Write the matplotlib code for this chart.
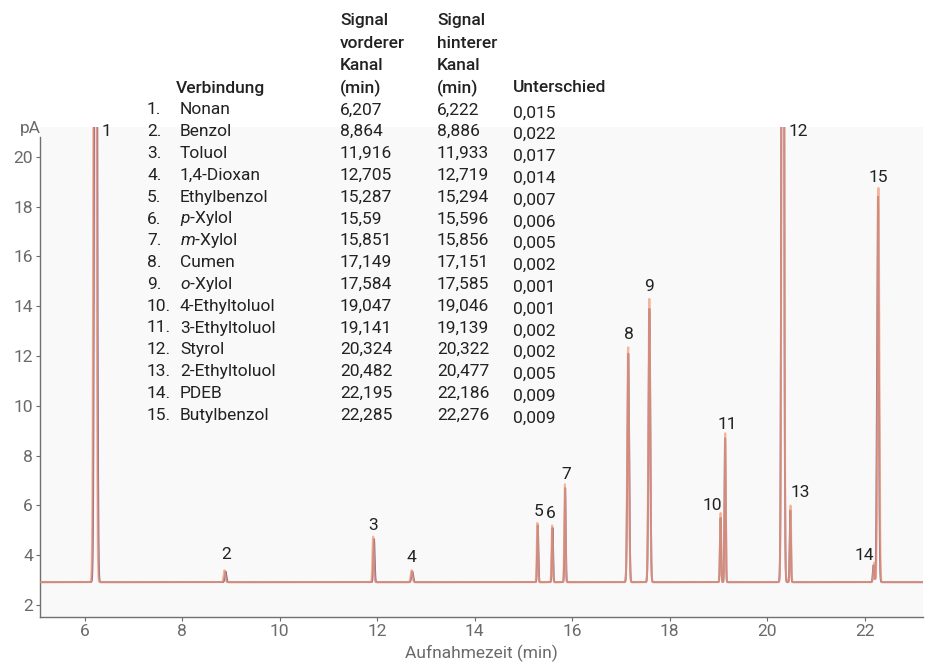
import numpy as np
import matplotlib
matplotlib.use('Agg')
import matplotlib.pyplot as plt

plt.rcParams['font.family'] = ['Roboto', 'DejaVu Sans']
plt.rcParams['mathtext.fontset'] = 'custom'
plt.rcParams['mathtext.it'] = 'Roboto:italic'
plt.rcParams['mathtext.rm'] = 'Roboto'

# peak table (retention times from the table, heights)
peak_no    = ['1', '2', '3', '4', '5', '6', '7', '8', '9', '10', '11', '12', '13', '14', '15']
rt_front   = [6.207, 8.864, 11.916, 12.705, 15.287, 15.59, 15.851, 17.149, 17.584,
              19.047, 19.141, 20.324, 20.482, 22.195, 22.285]
rt_back    = [6.222, 8.886, 11.933, 12.719, 15.294, 15.596, 15.856, 17.151, 17.585,
              19.046, 19.139, 20.322, 20.477, 22.186, 22.276]
h_front    = [60.0, 3.4, 4.75, 3.4, 5.3, 5.2, 6.85, 12.35, 14.3,
              5.7, 8.9, 60.0, 6.0, 3.7, 18.75]
h_back     = [60.0, 3.35, 4.65, 3.35, 5.2, 5.1, 6.7, 12.1, 13.9,
              5.5, 8.7, 60.0, 5.8, 3.6, 18.4]
width      = [0.022, 0.016, 0.014, 0.018, 0.012, 0.012, 0.012, 0.018, 0.018,
              0.012, 0.012, 0.02, 0.012, 0.014, 0.018]
baseline   = 2.92

# where the peak numbers sit (centre of the text, data units)
label_x    = [6.45, 8.89, 11.92, 12.70, 15.32, 15.57, 15.88, 17.17, 17.58,
              18.87, 19.18, 20.65, 20.69, 22.0, 22.29]
label_y    = [21.03, 4.02, 5.19, 3.90, 5.75, 5.67, 7.24, 12.85, 14.78,
              5.99, 9.26, 21.03, 6.52, 3.98, 19.18]

# table text
tab_no     = ['1.', '2.', '3.', '4.', '5.', '6.', '7.', '8.', '9.', '10.',
              '11.', '12.', '13.', '14.', '15.']
tab_name   = ['Nonan', 'Benzol', 'Toluol', '1,4-Dioxan', 'Ethylbenzol',
              r'$\it{p}$-Xylol', r'$\it{m}$-Xylol', 'Cumen', r'$\it{o}$-Xylol',
              '4-Ethyltoluol', '3-Ethyltoluol', 'Styrol', '2-Ethyltoluol',
              'PDEB', 'Butylbenzol']
tab_front  = ['6,207', '8,864', '11,916', '12,705', '15,287', '15,59', '15,851',
              '17,149', '17,584', '19,047', '19,141', '20,324', '20,482',
              '22,195', '22,285']
tab_back   = ['6,222', '8,886', '11,933', '12,719', '15,294', '15,596', '15,856',
              '17,151', '17,585', '19,046', '19,139', '20,322', '20,477',
              '22,186', '22,276']
tab_diff   = ['0,015', '0,022', '0,017', '0,014', '0,007', '0,006', '0,005',
              '0,002', '0,001', '0,001', '0,002', '0,002', '0,005', '0,009',
              '0,009']
head_front = ['Signal', 'vorderer', 'Kanal', '(min)']
head_back  = ['Signal', 'hinterer', 'Kanal', '(min)']

xticks = [6, 8, 10, 12, 14, 16, 18, 20, 22]
yticks = [2, 4, 6, 8, 10, 12, 14, 16, 18, 20]


def trace(t, rts, hs, ws):
    y = np.full_like(t, baseline)
    for r, h, w in zip(rts, hs, ws):
        y += (h - baseline) * np.exp(-0.5 * ((t - r) / w) ** 2)
    return y


t = np.linspace(5.0, 23.3, 30000)
y_front = trace(t, rt_front, h_front, width)
y_back = trace(t, rt_back, h_back, width)

W, H = 934, 667
fig = plt.figure(figsize=(W / 100, H / 100), dpi=100)
ax = fig.add_axes([40 / W, 1 - 617 / H, (923 - 40) / W, (617 - 127) / H])
ax.set_facecolor('#f9f9fa')

ax.plot(t, y_back, color='#6c4a7c', lw=1.4, alpha=0.8, zorder=2)
ax.plot(t, y_front, color='#f39a73', lw=1.5, alpha=0.7, zorder=3)

for s, x, y in zip(peak_no, label_x, label_y):
    ax.text(x, y, s, ha='center', va='center', fontsize=12.5, color='#222222')

ax.set_xlim(5.08, 23.2)
ax.set_ylim(1.52, 21.2)
ax.set_xticks(xticks)
ax.set_yticks(yticks)
for sp in ['top', 'right']:
    ax.spines[sp].set_visible(False)
for sp in ['left', 'bottom']:
    ax.spines[sp].set_color('#707070')
    ax.spines[sp].set_linewidth(1.0)
ax.spines['left'].set_bounds(1.52, 20.8)
ax.tick_params(colors='#6a6a6a', labelsize=12.5, length=3, width=0.8, pad=2)
ax.set_xlabel('Aufnahmezeit (min)', fontsize=12.5, color='#6a6a6a', labelpad=4)
fig.text(20 / W, 1 - 128 / H, 'pA', fontsize=12.5, color='#6a6a6a', va='center')

# table
tc = '#222222'
fs = 12.5
fig.text(176 / W, 1 - 88 / H, 'Verbindung', fontsize=fs, color=tc, weight='medium', va='center')
fig.text(513 / W, 1 - 88 / H, 'Unterschied', fontsize=fs, color=tc, weight='medium', va='center')
for j, py in enumerate([20, 43, 65, 88]):
    fig.text(340 / W, 1 - py / H, head_front[j], fontsize=fs, color=tc, weight='medium', va='center')
    fig.text(437 / W, 1 - py / H, head_back[j], fontsize=fs, color=tc, weight='medium', va='center')
for i in range(len(tab_no)):
    yy = 1 - (110 + 21.8 * i) / H
    fig.text(147 / W, yy, tab_no[i], fontsize=fs, color=tc, va='center')
    fig.text(180 / W, yy, tab_name[i], fontsize=fs, color=tc, va='center')
    fig.text(340 / W, yy, tab_front[i], fontsize=fs, color=tc, va='center')
    fig.text(437 / W, yy, tab_back[i], fontsize=fs, color=tc, va='center')
    fig.text(513 / W, yy - 3 / H, tab_diff[i], fontsize=fs, color=tc, va='center')

fig.savefig('out.png', dpi=100)
